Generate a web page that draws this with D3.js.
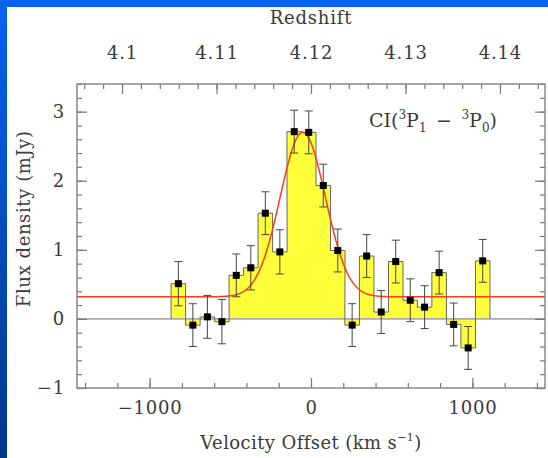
<!DOCTYPE html>
<html>
<head>
<meta charset="utf-8">
<script src="https://cdn.jsdelivr.net/npm/d3@7"></script>
<style>
  body { margin: 0; }
  text { font-family: "DejaVu Serif", serif; fill: #3a3a3a; }
</style>
</head>
<body>
<div id="chart"></div>
<script>
// CI line spectrum
const velocity = [-822, -732, -642, -552, -463, -373, -283, -193, -104, -14, 76, 166,
  255, 345, 435, 525, 615, 704, 794, 884, 974, 1064];
const flux = [0.51, -0.09, 0.03, -0.04, 0.63, 0.74, 1.53, 0.97, 2.71, 2.70, 1.93, 0.99,
  -0.09, 0.91, 0.10, 0.83, 0.27, 0.17, 0.67, -0.08, -0.42, 0.84];
const fluxErr = [0.32, 0.31, 0.31, 0.32, 0.31, 0.32, 0.31, 0.32, 0.31, 0.31, 0.31, 0.31,
  0.31, 0.31, 0.31, 0.31, 0.31, 0.31, 0.31, 0.31, 0.31, 0.31];
const binWidth = 90;

// gaussian fit (continuum + line)
const fitContinuum = 0.32;
const fitPeak = 2.38;
const fitCenter = -51;
const fitFwhm = 330;

const velTicks = [-1000, 0, 1000];
const fluxTicks = [-1, 0, 1, 2, 3];
const zTicks = [4.1, 4.11, 4.12, 4.13, 4.14];
const zSys = 4.12;
const cLight = 299792.458;

const W = 548, H = 458;
const frame = { left: 77, right: 545, top: 84, bottom: 388 };

const svg = d3.select("#chart").append("svg")
  .attr("width", W).attr("height", H);

// slide background
const grad = svg.append("defs").append("linearGradient")
  .attr("id", "bg").attr("x1", 0).attr("y1", 0).attr("x2", 0).attr("y2", 1);
grad.append("stop").attr("offset", "0%").attr("stop-color", "#0563f2");
grad.append("stop").attr("offset", "100%").attr("stop-color", "#02378a");
svg.append("rect").attr("width", W).attr("height", H).attr("fill", "url(#bg)");
svg.append("rect").attr("x", 7).attr("y", 7).attr("width", W - 7).attr("height", H - 7)
  .attr("fill", "#fff");

const x = d3.scaleLinear().domain([-1450, 1450]).range([frame.left, frame.right]);
const y = d3.scaleLinear().domain([-1, 3.4]).range([frame.bottom, frame.top]);
const toZ = (v) => zSys + (v * (1 + zSys)) / cLight;
const xz = d3.scaleLinear().domain(x.domain().map(toZ)).range(x.range());

// step histogram
const steps = [];
velocity.forEach((v, i) => {
  steps.push([v - binWidth / 2, flux[i]]);
  steps.push([v + binWidth / 2, flux[i]]);
});

svg.append("path")
  .datum(steps)
  .attr("fill", "#ffff3a")
  .attr("d", d3.area().x((d) => x(d[0])).y0(y(0)).y1((d) => y(d[1])));

// zero line
svg.append("line")
  .attr("x1", frame.left).attr("x2", frame.right)
  .attr("y1", y(0)).attr("y2", y(0))
  .attr("stroke", "#aaa").attr("stroke-width", 1.6);

const outline = [[steps[0][0], 0], ...steps, [steps[steps.length - 1][0], 0]];
svg.append("path")
  .datum(outline)
  .attr("fill", "none")
  .attr("stroke", "#666")
  .attr("stroke-width", 1)
  .attr("d", d3.line().x((d) => x(d[0])).y((d) => y(d[1])));

// fit curve
const fitSigma = fitFwhm / 2.3548;
const fitPts = d3.range(x.domain()[0], x.domain()[1] + 1, 5).map((v) => [
  v, fitContinuum + fitPeak * Math.exp(-((v - fitCenter) ** 2) / (2 * fitSigma ** 2)),
]);
svg.append("path")
  .datum(fitPts)
  .attr("fill", "none")
  .attr("stroke", "#ff3a1c")
  .attr("stroke-width", 1.5)
  .attr("d", d3.line().x((d) => x(d[0])).y((d) => y(d[1])));

// error bars + points
const pts = velocity.map((v, i) => ({ v, f: flux[i], e: fluxErr[i] }));
const eb = svg.append("g").attr("stroke", "#444").attr("stroke-width", 1);
eb.selectAll(".eb").data(pts).enter().append("line")
  .attr("x1", (d) => x(d.v)).attr("x2", (d) => x(d.v))
  .attr("y1", (d) => y(d.f - d.e)).attr("y2", (d) => y(d.f + d.e));
eb.selectAll(".capt").data(pts).enter().append("line")
  .attr("x1", (d) => x(d.v) - 4).attr("x2", (d) => x(d.v) + 4)
  .attr("y1", (d) => y(d.f + d.e)).attr("y2", (d) => y(d.f + d.e));
eb.selectAll(".capb").data(pts).enter().append("line")
  .attr("x1", (d) => x(d.v) - 4).attr("x2", (d) => x(d.v) + 4)
  .attr("y1", (d) => y(d.f - d.e)).attr("y2", (d) => y(d.f - d.e));

svg.selectAll(".pt").data(pts).enter().append("rect")
  .attr("x", (d) => x(d.v) - 3.5).attr("y", (d) => y(d.f) - 3.5)
  .attr("width", 7).attr("height", 7).attr("fill", "#000");

// axes, ticks pointing inward
function styleAxis(g) {
  g.select(".domain").remove();
  g.selectAll("line").attr("stroke", "#777").attr("stroke-width", 1.2);
  g.selectAll("text").style("font-size", "18px").style("letter-spacing", "0.8px")
    .attr("fill", "#3a3a3a");
}
const minorV = d3.range(-1400, 1401, 200);
const minorF = d3.range(-1, 3.41, 0.2);
const minorZ = d3.range(4.096, 4.1441, 0.002);

svg.append("g").attr("transform", `translate(0,${frame.bottom})`)
  .call(d3.axisBottom(x).tickValues(minorV).tickSize(-5).tickFormat(""))
  .call(styleAxis);
svg.append("g").attr("transform", `translate(0,${frame.bottom})`)
  .call(d3.axisBottom(x).tickValues(velTicks).tickSize(-10).tickPadding(13)
    .tickFormat((d) => (d < 0 ? "\u2212" + Math.abs(d) : d)))
  .call(styleAxis);

svg.append("g").attr("transform", `translate(0,${frame.top})`)
  .call(d3.axisTop(xz).tickValues(minorZ).tickSize(-5).tickFormat(""))
  .call(styleAxis);
svg.append("g").attr("transform", `translate(0,${frame.top})`)
  .call(d3.axisTop(xz).tickValues(zTicks).tickSize(-10).tickPadding(25)
    .tickFormat((d) => d3.format(".3~f")(d)))
  .call(styleAxis);

svg.append("g").attr("transform", `translate(${frame.left},0)`)
  .call(d3.axisLeft(y).tickValues(minorF).tickSize(-5).tickFormat(""))
  .call(styleAxis);
svg.append("g").attr("transform", `translate(${frame.left},0)`)
  .call(d3.axisLeft(y).tickValues(fluxTicks).tickSize(-10).tickPadding(12)
    .tickFormat((d) => (d < 0 ? "\u2212" + Math.abs(d) : d)))
  .call(styleAxis);

svg.append("g").attr("transform", `translate(${frame.right},0)`)
  .call(d3.axisRight(y).tickValues(minorF).tickSize(-5).tickFormat(""))
  .call(styleAxis);
svg.append("g").attr("transform", `translate(${frame.right},0)`)
  .call(d3.axisRight(y).tickValues(fluxTicks).tickSize(-10).tickFormat(""))
  .call(styleAxis);

// frame
svg.append("rect")
  .attr("x", frame.left).attr("y", frame.top)
  .attr("width", frame.right - frame.left).attr("height", frame.bottom - frame.top)
  .attr("fill", "none").attr("stroke", "#888").attr("stroke-width", 1.5);

// titles
svg.append("text").attr("x", x(0)).attr("y", 24).attr("text-anchor", "middle")
  .style("font-size", "18px").style("letter-spacing", "0.8px").text("Redshift");

const xt = svg.append("text").attr("x", x(0)).attr("y", 449).attr("text-anchor", "middle")
  .style("font-size", "18px").style("letter-spacing", "0.4px");
xt.append("tspan").text("Velocity Offset (km s");
xt.append("tspan").attr("dy", -8).style("font-size", "11px").text("\u22121");
xt.append("tspan").attr("dy", 8).text(")");

svg.append("text")
  .attr("transform", `translate(30,${y(1.45)}) rotate(-90)`)
  .attr("text-anchor", "middle")
  .style("font-size", "18px").style("letter-spacing", "0.6px")
  .text("Flux density (mJy)");

const lab = svg.append("text").attr("x", 369).attr("y", 127).style("font-size", "19px");
lab.append("tspan").text("CI(");
lab.append("tspan").attr("dy", -8).style("font-size", "12px").text("3");
lab.append("tspan").attr("dy", 8).text("P");
lab.append("tspan").attr("dy", 5).style("font-size", "12px").text("1");
lab.append("tspan").attr("dy", -5).text("\u2002\u2212\u2002");
lab.append("tspan").attr("dy", -8).style("font-size", "12px").text("3");
lab.append("tspan").attr("dy", 8).text("P");
lab.append("tspan").attr("dy", 5).style("font-size", "12px").text("0");
lab.append("tspan").attr("dy", -5).text(")");
</script>
</body>
</html>
